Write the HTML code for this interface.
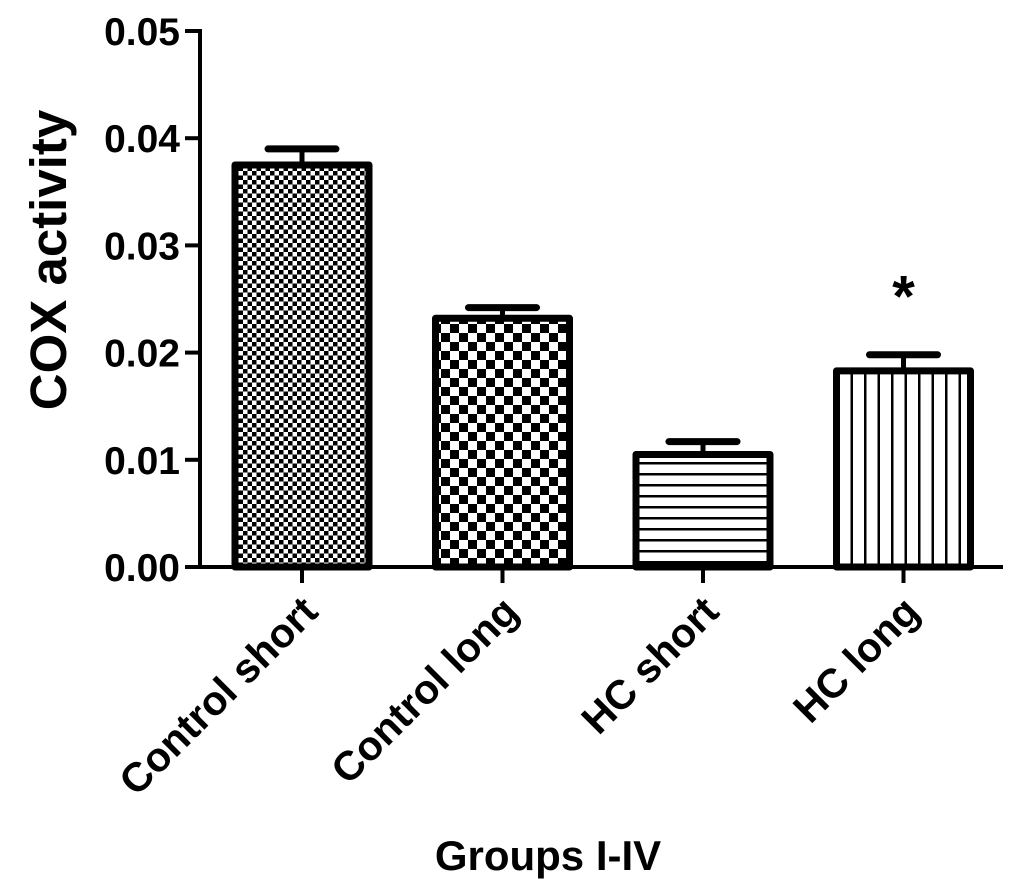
<!DOCTYPE html>
<html><head><meta charset="utf-8"><style>body{margin:0;background:#fff}svg{display:block}text{font-family:"Liberation Sans",Arial,sans-serif;font-weight:bold;fill:#000}</style></head>
<body>
<svg id="chart" width="1024" height="879" viewBox="0 0 1024 879" xmlns="http://www.w3.org/2000/svg">
<defs>
<pattern id="p0" width="9" height="9" patternUnits="userSpaceOnUse"><rect width="9" height="9" fill="#fff"/><rect width="4.5" height="4.5" fill="#000"/><rect x="4.5" y="4.5" width="4.5" height="4.5" fill="#000"/></pattern>
<pattern id="p1" width="18" height="18" patternUnits="userSpaceOnUse"><rect width="18" height="18" fill="#fff"/><rect width="9" height="9" fill="#000"/><rect x="9" y="9" width="9" height="9" fill="#000"/></pattern>
<pattern id="p2" width="11" height="11" patternUnits="userSpaceOnUse"><rect width="11" height="11" fill="#fff"/><rect y="0" width="11" height="2.5" fill="#000"/></pattern>
<pattern id="p3" width="13.5" height="13.5" patternUnits="userSpaceOnUse"><rect width="13.5" height="13.5" fill="#fff"/><rect x="0" width="2.5" height="13.5" fill="#000"/></pattern>
</defs>
<g id="plot"></g>
<text transform="translate(66,260) rotate(-90)" text-anchor="middle" font-size="51">COX activity</text>
<text x="548" y="870" text-anchor="middle" font-size="42">Groups I-IV</text>
</svg>
<script>
const categories = ["Control short","Control long","HC short","HC long"];
const values = [0.0375, 0.0232, 0.0105, 0.0183];
const errors = [0.0015, 0.0010, 0.0012, 0.0015];
const yTicks = [0, 0.01, 0.02, 0.03, 0.04, 0.05];
const yTickLabels = ["0.00","0.01","0.02","0.03","0.04","0.05"];
const significant = [false,false,false,true];

const NS="http://www.w3.org/2000/svg";
const g=document.getElementById('plot');
const x0=200, x1=1003, yBase=567, yTop=31, yMax=0.05;
const y=v=>yBase-(v/yMax)*(yBase-yTop);
const xc=i=>302+i*200.5;
const bw=134;
function mk(t,a){const e=document.createElementNS(NS,t);for(const k in a)e.setAttribute(k,a[k]);g.appendChild(e);return e;}

categories.forEach((c,i)=>{
  const cx=xc(i), top=y(values[i]), et=y(values[i]+errors[i]);
  const eb=mk('line',{x1:cx,x2:cx,y1:top,y2:et,stroke:'#000','stroke-width':5});
  
  
  const cap=mk('line',{x1:cx-34,x2:cx+34,y1:et,y2:et,stroke:'#000','stroke-width':7,'stroke-linecap':'round'});
  
  
  const r=mk('rect',{x:cx-bw/2,y:top,width:bw,height:yBase-top,fill:'url(#p'+i+')',stroke:'#000','stroke-width':7,'stroke-linejoin':'round'});
  
  
  const tk=mk('line',{x1:cx,x2:cx,y1:yBase,y2:583,stroke:'#000','stroke-width':4});
  
  
  const t=mk('text',{transform:`translate(${cx+18},${614}) rotate(-45)`,'text-anchor':'end','font-size':41});
  t.textContent=c;
  
  
  if(significant[i]){
    const s=mk('text',{x:cx,y:et-38,'text-anchor':'middle','font-size':58});
    s.textContent='*';
    
    
  }
});
const xa=mk('line',{x1:x0,x2:x1,y1:yBase,y2:yBase,stroke:'#000','stroke-width':4});


const ya=mk('line',{x1:x0,x2:x0,y1:yTop-2,y2:yBase+2,stroke:'#000','stroke-width':4});


yTicks.forEach((v,i)=>{
  const l=mk('line',{x1:185,x2:x0,y1:y(v),y2:y(v),stroke:'#000','stroke-width':4});
  
  
  const t=mk('text',{x:180,y:y(v)+14,'text-anchor':'end','font-size':39});
  t.textContent=yTickLabels[i];
  
  
});
</script>
</body></html>
